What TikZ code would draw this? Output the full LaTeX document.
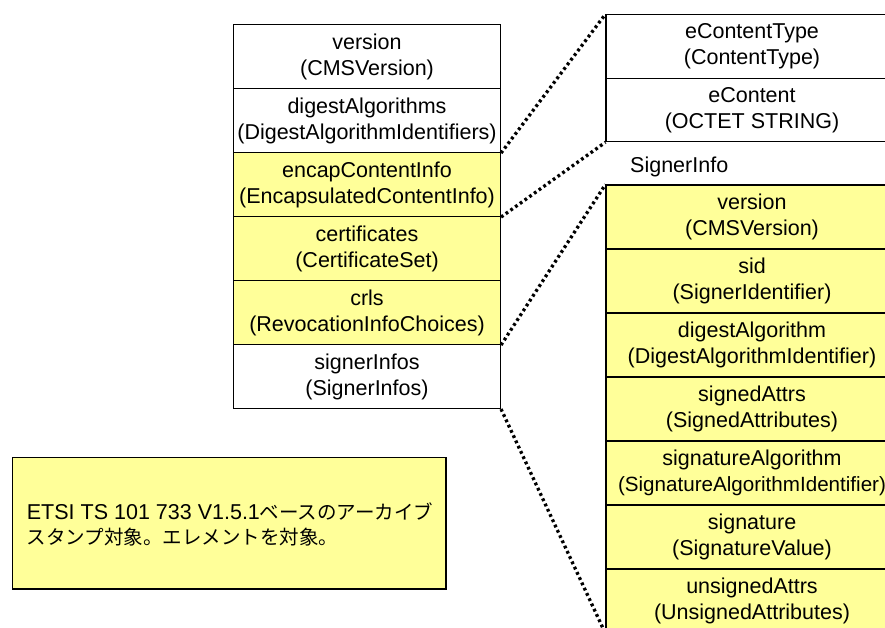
\documentclass[tikz,border=0pt]{standalone}
\usepackage{fontspec}
\setmainfont{Liberation Sans}
\newfontfamily\jp{Noto Sans CJK JP}
\definecolor{paleyellow}{HTML}{FFFF99}
\begin{document}
\begin{tikzpicture}[x=1pt,y=-1pt,
  cell/.style={draw=black, line width=1.1pt, fill=white, inner sep=0pt,
    align=center, font=\fontsize{21.5}{26}\selectfont},
  lcell/.style={cell, minimum width=267pt, minimum height=64pt},
  rcell/.style={cell, minimum width=292pt, minimum height=63.5pt},
  scell/.style={cell, minimum width=292pt, minimum height=64pt, fill=paleyellow},
  dotline/.style={line width=3.3pt, dash pattern=on 2.8pt off 3pt}]
\clip (0,0) rectangle (885,628);
\useasboundingbox (0,0) rectangle (885,628);

% SignedData fields
\node[lcell] (ver) at (367,56.5) {version\\(CMSVersion)};
\node[lcell] (dig) at (367,120.5) {digestAlgorithms\\(DigestAlgorithmIdentifiers)};
\node[lcell, fill=paleyellow] (eci) at (367,184.5) {encapContentInfo\\(EncapsulatedContentInfo)};
\node[lcell, fill=paleyellow] (crt) at (367,248.5) {certificates\\(CertificateSet)};
\node[lcell, fill=paleyellow] (crl) at (367,312.5) {crls\\(RevocationInfoChoices)};
\node[lcell] (sis) at (367,376.5) {signerInfos\\(SignerInfos)};

% EncapsulatedContentInfo fields
\node[rcell] (ect) at (752,46.45) {eContentType\\(ContentType)};
\node[rcell] (ec) at (752,109.95) {eContent\\(OCTET STRING)};

% SignerInfo fields
\node[anchor=west, inner sep=0pt, font=\fontsize{21.5}{26}\selectfont] (silab) at (630,166.7) {SignerInfo};
\node[scell] (sver) at (752,217) {version\\(CMSVersion)};
\node[scell] (sid) at (752,281) {sid\\(SignerIdentifier)};
\node[scell] (sdig) at (752,345) {digestAlgorithm\\(DigestAlgorithmIdentifier)};
\node[scell] (sat) at (752,409) {signedAttrs\\(SignedAttributes)};
\node[scell] (salg) at (752,473) {signatureAlgorithm\\{\fontsize{20.6}{26}\selectfont(SignatureAlgorithmIdentifier)}};
\node[scell] (sig) at (752,537) {signature\\(SignatureValue)};
\node[scell] (uat) at (752,601) {unsignedAttrs\\(UnsignedAttributes)};

% note
\node[draw=black, line width=1.1pt, fill=paleyellow, minimum width=433.7pt,
  minimum height=131.7pt, inner sep=0pt] (note) at (229.15,523.15) {};
\node[anchor=west, inner sep=0pt, align=left, font=\fontsize{21.5}{25.5}\selectfont]
  (notetext) at (26.7,524.5)
  {ETSI TS 101 733 V1.5.1{\jp\fontsize{19.5}{25.5}\selectfont ベースのアーカイブ}\\
   {\jp\fontsize{19.5}{25.5}\selectfont スタンプ対象。エレメントを対象。}};

% expansion guides
\draw[dotline] (dig.south east) -- (ect.north west);
\draw[dotline] (eci.south east) -- (ec.south west);
\draw[dotline] (crl.south east) -- (sver.north west);
\draw[dotline] (sis.south east) -- (uat.south west);
\end{tikzpicture}
\end{document}
